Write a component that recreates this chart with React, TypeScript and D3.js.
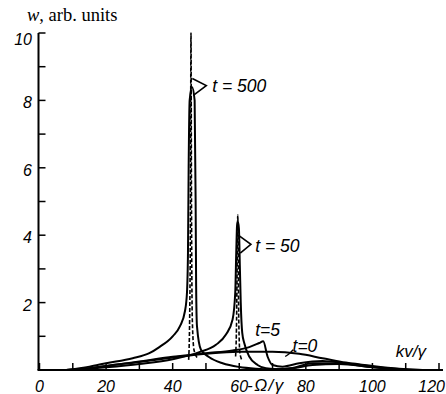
import * as d3 from "d3";

// tick values
const xTicks = [0, 10, 20, 30, 40, 50, 60, 70, 80, 90, 100, 110, 120];
const xTickLabels = [0, 20, 40, 60, 80, 100, 120];
const yTicks = [0, 1, 2, 3, 4, 5, 6, 7, 8, 9, 10];
const yTickLabels = [2, 4, 6, 8, 10];

// curves: [kv/γ, w]
const curveT0: [number, number][] = [
  [8, 0], [15, 0.05], [20, 0.12], [30, 0.24], [40, 0.37], [50, 0.48], [60, 0.54],
  [70, 0.54], [78, 0.48], [85, 0.35], [92, 0.22], [100, 0.12], [108, 0.04], [115, 0],
];
const curveT5: [number, number][] = [
  [8, 0], [15, 0.05], [20, 0.12], [30, 0.25], [40, 0.39], [50, 0.5], [58, 0.58],
  [63, 0.68], [66, 0.8], [67.2, 0.85], [68.5, 0.4], [70, 0.15], [73, 0.1], [78, 0.2],
  [85, 0.27], [92, 0.2], [100, 0.1], [108, 0.03], [115, 0],
];
const curveT50: [number, number][] = [
  [10, 0], [20, 0.08], [30, 0.18], [40, 0.32], [48, 0.53], [53, 0.75], [56, 1.05],
  [58, 1.5], [58.8, 2.3], [59.1, 3.5], [59.35, 4.3], [59.6, 4.4], [59.9, 4.2],
  [60.2, 3], [60.45, 2], [60.9, 1.1], [61.5, 0.8], [63, 0.4], [65.5, 0.15], [68, 0.05],
  [72, 0.02], [76, 0.06], [82, 0.2], [90, 0.2], [98, 0.1], [105, 0.04], [112, 0],
];
const curveT500: [number, number][] = [
  [8, 0], [15, 0.1], [20, 0.2], [28, 0.35], [33, 0.5], [36, 0.68], [40, 1.0],
  [42.2, 1.3], [43.7, 1.75], [44.3, 2.3], [44.6, 3.5], [44.8, 6], [45.1, 8],
  [45.8, 8.4], [46.6, 8], [46.9, 5], [47.05, 2.5], [47.3, 1.3], [48.5, 0.6],
  [51, 0.38], [55, 0.2], [60, 0.09], [65, 0.04], [70, 0.02], [76, 0.05], [82, 0.15],
  [90, 0.18], [100, 0.08], [110, 0],
];
// dashed (approximate) spikes
const dashed500: [number, number][] = [
  [44.8, 0.3], [45.1, 1.5], [45.35, 5], [45.5, 10], [45.65, 5], [45.9, 1.5],
  [46.4, 0.6], [47.5, 0.35],
];
const dashed50: [number, number][] = [
  [58.9, 0.4], [59.2, 1.5], [59.4, 3.5], [59.55, 4.6], [59.7, 3.5], [59.85, 1.5],
  [60.2, 0.5], [60.8, 0.3],
];

// label pointers, data coords
const wedge500: [number, number][] = [[45.9, 8.65], [50.1, 8.44], [46.2, 8.15]];
const wedge50: [number, number][] = [[59.7, 4.0], [63.5, 3.73], [60.3, 3.47]];
const leader0: [number, number][] = [[76.2, 0.6], [75, 0.48], [73.8, 0.4]];

const W = 446;
const H = 394;

export default function App() {
  const x = d3.scaleLinear().domain([0, 120]).range([39.5, 439]);
  const y = d3.scaleLinear().domain([0, 10]).range([370, 33]);

  const line = d3
    .line<[number, number]>()
    .x((d) => x(d[0]))
    .y((d) => y(d[1]))
    .curve(d3.curveMonotoneX);
  const straight = d3
    .line<[number, number]>()
    .x((d) => x(d[0]))
    .y((d) => y(d[1]));

  const tickFont = { fontFamily: "Liberation Sans, Arial, sans-serif", fontStyle: "italic", fontSize: 16 };
  const labelFont = { ...tickFont, fontSize: 17.5 };

  return (
    <svg
      width={W}
      height={H}
      style={{ position: "absolute", left: 0, top: 0, background: "#fff" }}
    >
      {/* axes */}
      <line x1={x(0) - 1} x2={x(0) - 1} y1={y(0)} y2={y(10)} stroke="#000" strokeWidth={2} />
      <line x1={x(0) - 2} x2={443} y1={y(0)} y2={y(0)} stroke="#000" strokeWidth={2} />
      {yTicks.map((t) => (
        <line key={"yt" + t} x1={x(0) - 1} x2={x(0) + 6} y1={y(t)} y2={y(t)} stroke="#000" strokeWidth={1.5} />
      ))}
      {xTicks.map((t) => (
        <line key={"xt" + t} x1={x(t)} x2={x(t)} y1={y(0)} y2={y(0) - 7} stroke="#000" strokeWidth={1.5} />
      ))}
      {yTickLabels.map((t) => (
        <text key={"yl" + t} x={32} y={y(t) + (t === 10 ? 12 : 8)} textAnchor="end" {...tickFont}>
          {t}
        </text>
      ))}
      {xTickLabels.map((t) => (
        <text
          key={"xl" + t}
          x={t === 120 ? 445 : x(t)}
          y={392}
          textAnchor={t === 120 ? "end" : "middle"}
          {...tickFont}
        >
          {t}
        </text>
      ))}
      <text x={247} y={391} {...tickFont} fontSize={17} letterSpacing={1.5}>-Ω/γ</text>
      <text x={x(107)} y={357} {...tickFont} fontSize={17}>kv/γ</text>
      <text x={27} y={21} fontFamily="Liberation Serif, serif" fontSize={18.5}>
        <tspan fontStyle="italic">w</tspan>, arb. units
      </text>

      {/* curves */}
      {[curveT0, curveT5, curveT50, curveT500].map((c, i) => (
        <path key={"c" + i} d={line(c) ?? ""} fill="none" stroke="#000" strokeWidth={2} />
      ))}
      {[dashed500, dashed50].map((c, i) => (
        <path key={"d" + i} d={line(c) ?? ""} fill="none" stroke="#000" strokeWidth={1.6} strokeDasharray="4 2" />
      ))}

      {/* labels */}
      <path d={straight(wedge500) ?? ""} fill="none" stroke="#000" strokeWidth={1.6} />
      <path d={straight(wedge50) ?? ""} fill="none" stroke="#000" strokeWidth={1.6} />
      <path d={line(leader0) ?? ""} fill="none" stroke="#000" strokeWidth={1.4} />
      <text x={x(51.9)} y={y(8.24)} {...labelFont}>t = 500</text>
      <text x={x(64.8)} y={y(3.5)} {...labelFont}>t = 50</text>
      <text x={x(64.8)} y={y(1.0)} {...labelFont}>t=5</text>
      <text x={x(76)} y={y(0.53)} {...labelFont}>t=0</text>
    </svg>
  );
}
